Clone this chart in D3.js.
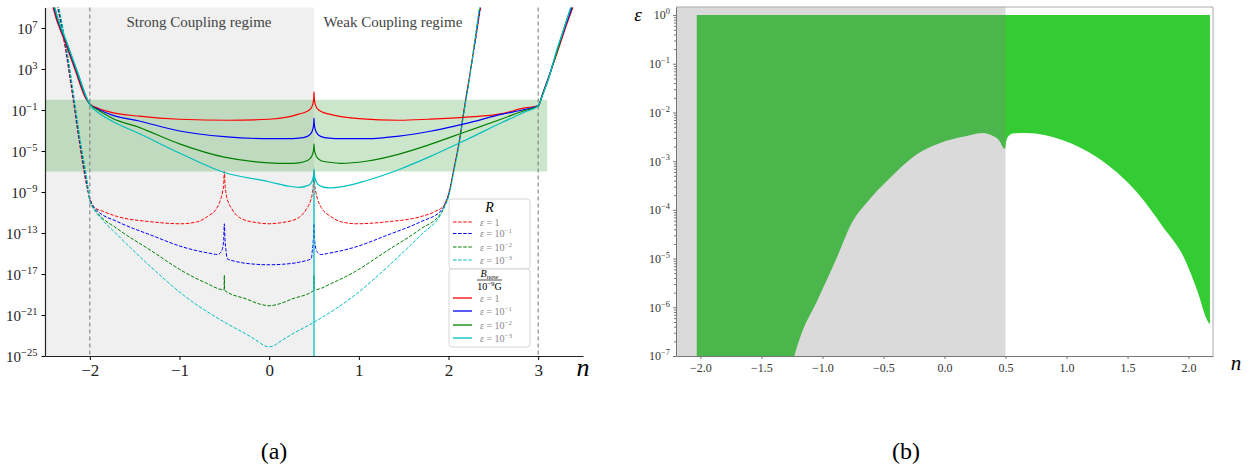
<!DOCTYPE html>
<html>
<head>
<meta charset="utf-8">
<script src="https://cdn.jsdelivr.net/npm/d3@7"></script>
<style>
body { margin: 0; background: #fff; }
svg text { font-family: "Liberation Serif", "DejaVu Serif", serif; }
</style>
</head>
<body>
<svg id="fig" width="1252" height="464"></svg>
<script>
var width = 1252,
height = 464;

// ---- panel (a) data, [n, log10(value)] ----
// R, dashed
var rRed = [[-2.38,9.8],[-2.36,9.0],[-2.27,4.8],[-2.19,0.2],[-2.12,-4.0],[-2.04,-8.2],[-2.0,-9.6],[-1.95,-10.5],[-1.85,-10.9],[-1.69,-11.4],[-1.32,-11.9],[-0.98,-12.1],[-0.8,-11.9],[-0.69,-11.4],[-0.58,-10.5],[-0.54,-9.7],[-0.52,-9.0],[-0.507,-8.2],[-0.5,-7.0],[-0.493,-8.2],[-0.48,-9.2],[-0.46,-9.9],[-0.42,-10.6],[-0.31,-11.6],[-0.13,-12.0],[0,-12.1],[0.13,-12.0],[0.31,-11.6],[0.42,-10.6],[0.46,-9.9],[0.48,-9.2],[0.493,-8.2],[0.5,-7.0],[0.507,-8.2],[0.52,-9.0],[0.54,-9.7],[0.58,-10.5],[0.69,-11.4],[0.8,-11.9],[0.98,-12.1],[1.32,-11.9],[1.69,-11.4],[1.85,-10.9],[1.95,-10.3],[2.0,-9.2],[2.06,-6.7],[2.12,-4.0],[2.17,-1.1],[2.23,2.1],[2.31,6.4],[2.36,9.0],[2.39,10.3]];
var rBlue = [[-2.375,9.8],[-2.355,9.0],[-2.265,4.8],[-2.185,0.2],[-2.115,-4.0],[-2.035,-8.2],[-2.0,-9.7],[-1.97,-10.3],[-1.92,-10.8],[-1.69,-11.9],[-1.32,-13.2],[-0.95,-14.4],[-0.65,-15.0],[-0.58,-15.1],[-0.54,-14.9],[-0.52,-14.5],[-0.507,-13.6],[-0.5,-12.1],[-0.493,-13.6],[-0.48,-14.8],[-0.47,-15.5],[-0.36,-15.8],[-0.15,-16.05],[0,-16.1],[0.15,-16.05],[0.36,-15.8],[0.47,-15.5],[0.48,-14.8],[0.493,-13.6],[0.5,-12.1],[0.507,-13.6],[0.52,-14.5],[0.54,-14.9],[0.58,-15.1],[0.65,-15.0],[0.95,-14.4],[1.32,-13.2],[1.69,-11.9],[1.92,-10.8],[1.96,-10.2],[2.0,-9.3],[2.06,-6.8],[2.12,-4.1],[2.17,-1.2],[2.23,2.0],[2.31,6.3],[2.355,9.0],[2.385,10.3]];
var rGreen = [[-2.37,9.8],[-2.35,9.0],[-2.26,4.8],[-2.18,0.2],[-2.11,-4.0],[-2.03,-8.2],[-2.0,-9.8],[-1.97,-10.4],[-1.92,-11.0],[-1.69,-12.6],[-1.32,-14.7],[-0.95,-16.8],[-0.7,-17.9],[-0.503,-18.55],[-0.5,-17.1],[-0.497,-18.6],[-0.25,-19.45],[-0.1,-19.95],[0,-20.1],[0.1,-19.95],[0.25,-19.45],[0.497,-18.6],[0.5,-17.1],[0.503,-18.55],[0.7,-17.9],[0.95,-16.8],[1.32,-14.7],[1.69,-12.6],[1.92,-11.0],[1.96,-10.3],[2.0,-9.4],[2.06,-6.9],[2.12,-4.2],[2.17,-1.3],[2.23,1.9],[2.3,6.2],[2.35,9.0],[2.38,10.3]];
var rCyan = [[-2.365,9.8],[-2.345,9.0],[-2.255,4.8],[-2.175,0.2],[-2.105,-4.0],[-2.025,-8.2],[-2.0,-9.9],[-1.97,-10.5],[-1.92,-11.1],[-1.69,-13.2],[-1.32,-16.3],[-0.95,-19.1],[-0.5,-21.7],[-0.25,-22.9],[-0.12,-23.6],[-0.05,-24.0],[0,-24.1],[0.05,-24.0],[0.12,-23.6],[0.25,-22.9],[0.5,-21.7],[0.95,-19.1],[1.32,-16.3],[1.69,-13.2],[1.92,-11.1],[1.96,-10.4],[2.0,-9.5],[2.06,-7.0],[2.12,-4.3],[2.17,-1.4],[2.23,1.8],[2.3,6.1],[2.345,9.0],[2.375,10.3]];
// B_now / 1e-9 G, solid
var bRed = [[-2.43,9.8],[-2.41,9.0],[-2.28,5.7],[-2.16,2.8],[-2.05,0.2],[-2.0,-0.4],[-1.9,-0.85],[-1.75,-1.25],[-1.45,-1.6],[-1.0,-1.9],[-0.45,-2.0],[0,-1.9],[0.2,-1.7],[0.33,-1.4],[0.42,-1.15],[0.46,-0.9],[0.48,-0.6],[0.49,-0.3],[0.497,0.15],[0.5,0.76],[0.503,0.15],[0.51,-0.3],[0.52,-0.6],[0.54,-0.9],[0.58,-1.15],[0.67,-1.4],[0.8,-1.65],[1.0,-1.85],[1.45,-2.0],[1.78,-1.9],[2.2,-1.7],[2.6,-1.35],[2.85,-0.8],[3.0,-0.6],[3.05,0.6],[3.12,2.3],[3.22,4.8],[3.32,7.4],[3.42,9.8]];
var bBlue = [[-2.42,9.8],[-2.4,9.0],[-2.27,5.7],[-2.15,2.8],[-2.04,0.17],[-2.0,-0.45],[-1.9,-0.95],[-1.75,-1.5],[-1.45,-2.07],[-1.0,-3.05],[-0.5,-3.6],[0,-3.8],[0.2,-3.8],[0.33,-3.75],[0.42,-3.6],[0.46,-3.35],[0.48,-3.05],[0.49,-2.75],[0.497,-2.3],[0.5,-1.8],[0.503,-2.3],[0.51,-2.75],[0.52,-3.05],[0.54,-3.35],[0.58,-3.6],[0.67,-3.75],[0.8,-3.8],[1.08,-3.8],[1.45,-3.55],[1.78,-3.1],[2.2,-2.3],[2.6,-1.4],[2.85,-0.95],[3.0,-0.6],[3.05,0.55],[3.12,2.25],[3.21,4.75],[3.31,7.35],[3.41,9.8]];
var bGreen = [[-2.415,9.8],[-2.395,9.0],[-2.265,5.7],[-2.145,2.8],[-2.035,0.15],[-2.0,-0.45],[-1.9,-1.05],[-1.75,-1.8],[-1.45,-2.7],[-1.0,-4.3],[-0.5,-5.6],[0,-6.15],[0.2,-6.2],[0.33,-6.15],[0.42,-5.95],[0.46,-5.7],[0.48,-5.4],[0.49,-5.1],[0.497,-4.75],[0.5,-4.3],[0.503,-4.75],[0.51,-5.1],[0.52,-5.4],[0.54,-5.7],[0.58,-5.95],[0.67,-6.1],[0.8,-6.2],[1.08,-6.0],[1.45,-5.3],[1.78,-4.4],[2.2,-3.1],[2.6,-1.85],[2.85,-1.05],[3.0,-0.6],[3.05,0.5],[3.12,2.2],[3.21,4.7],[3.3,7.3],[3.4,9.8]];
var bCyan = [[-2.41,9.8],[-2.39,9.0],[-2.26,5.7],[-2.14,2.8],[-2.03,0.1],[-2.0,-0.45],[-1.9,-1.3],[-1.75,-2.1],[-1.45,-3.3],[-1.0,-5.2],[-0.5,-7.1],[0,-8.0],[0.2,-8.4],[0.33,-8.55],[0.42,-8.4],[0.46,-8.2],[0.48,-7.9],[0.49,-7.6],[0.497,-7.2],[0.499,-6.8],[0.5,-30],[0.501,-6.8],[0.503,-7.2],[0.51,-7.6],[0.52,-7.9],[0.54,-8.2],[0.58,-8.45],[0.67,-8.6],[0.8,-8.5],[1.08,-7.9],[1.45,-6.8],[1.78,-5.6],[2.2,-3.9],[2.6,-2.2],[2.85,-1.2],[3.0,-0.6],[3.05,0.45],[3.12,2.15],[3.2,4.65],[3.3,7.25],[3.39,9.8]];

var seriesColors = ["red", "blue", "green", "#00bfbf"];
var epsExponents = [0, -1, -2, -3];
var leftYTicks = [-25, -21, -17, -13, -9, -5, -1, 3, 7];
var leftXTicks = [-2, -1, 0, 1, 2, 3];
var regimeNames = ["Strong Coupling regime", "Weak Coupling regime"];
var bandRange = [-7, 0];     // log10 limits of shaded band
var regimeSplit = 0.5;
var markLines = [-2, 3];

// ---- panel (b) data: lower edge of allowed region, [n, log10(eps)] ----
var epsBoundary = [[-2.03,-7.6],[-1.28,-7.6],[-1.23,-7.0],[-1.19,-6.67],[-1.04,-5.85],[-0.88,-4.97],[-0.76,-4.27],[-0.62,-3.8],[-0.48,-3.43],[-0.21,-2.83],[-0.04,-2.63],[0.15,-2.5],[0.31,-2.42],[0.41,-2.5],[0.455,-2.6],[0.48,-2.72],[0.495,-2.75],[0.505,-2.6],[0.52,-2.5],[0.56,-2.43],[0.67,-2.42],[0.97,-2.57],[1.25,-2.92],[1.58,-3.65],[1.79,-4.35],[1.96,-4.97],[2.07,-5.65],[2.16,-6.3],[2.175,-6.35]];
var rightYTicks = [-7, -6, -5, -4, -3, -2, -1, 0];
var rightXTicks = [-2, -1.5, -1, -0.5, 0, 0.5, 1, 1.5, 2];

var svg = d3.select("#fig");

// scales
var xA = d3.scaleLinear().domain([-2.5, 3.5]).range([45, 583]);
var yA = d3.scaleLog().domain([1e-25, 1e9]).range([356, 7.5]);
var xB = d3.scaleLinear().domain([-2.2, 2.2]).range([676, 1213]);
var yB = d3.scaleLog().domain([1e-7, Math.pow(10, 0.165)]).range([356, 7]);

function p10(e) { return Math.pow(10, e); }

function supLabel(el, exp, size) {
    el.text(null);
    el.append("tspan").text("10");
    el.append("tspan")
        .attr("dy", -size * 0.42)
        .attr("font-size", size * 0.7)
        .text(String(exp).replace("-", "\u2212"));
}

// ================= panel (a) =================
var defs = svg.append("defs");
defs.append("clipPath").attr("id", "clipA").append("rect")
    .attr("x", 45).attr("y", 7.5).attr("width", 538).attr("height", 348.5);
defs.append("clipPath").attr("id", "clipB").append("rect")
    .attr("x", 676).attr("y", 7).attr("width", 537).attr("height", 349);

var gA = svg.append("g");

gA.append("rect")
    .attr("x", xA(-2.5)).attr("y", yA(1e9))
    .attr("width", xA(regimeSplit) - xA(-2.5))
    .attr("height", yA(1e-25) - yA(1e9))
    .attr("fill", "#f0f0f0");

gA.append("rect")
    .attr("x", xA(-2.5)).attr("y", yA(p10(bandRange[1])))
    .attr("width", xA(3.1) - xA(-2.5))
    .attr("height", yA(p10(bandRange[0])) - yA(p10(bandRange[1])))
    .attr("fill", "green").attr("opacity", 0.2);

gA.selectAll(".vmark").data(markLines).enter().append("line")
    .attr("class", "vmark")
    .attr("x1", d => xA(d)).attr("x2", d => xA(d))
    .attr("y1", yA(1e9)).attr("y2", yA(1e-25))
    .attr("stroke", "#777").attr("stroke-width", 1)
    .attr("stroke-dasharray", "4,3");

var lineA = d3.line()
    .x(d => xA(d[0]))
    .y(d => yA(p10(d[1])))
    .curve(d3.curveMonotoneX);

var rSeries = [rRed, rBlue, rGreen, rCyan];
var bSeries = [bRed, bBlue, bGreen, bCyan];

var curves = gA.append("g").attr("clip-path", "url(#clipA)");
curves.selectAll(".rLine").data(rSeries).enter().append("path")
    .attr("class", "rLine")
    .attr("d", d => lineA(d))
    .attr("fill", "none")
    .attr("stroke", (d, i) => seriesColors[i])
    .attr("stroke-width", 1)
    .attr("stroke-dasharray", "3.5,1.6");
curves.selectAll(".bLine").data(bSeries).enter().append("path")
    .attr("class", "bLine")
    .attr("d", d => lineA(d))
    .attr("fill", "none")
    .attr("stroke", (d, i) => seriesColors[i])
    .attr("stroke-width", 1.2);

// axes
var axA_y = d3.axisLeft(yA).tickValues(leftYTicks.map(p10)).tickSize(3.5).tickSizeOuter(0).tickPadding(4);
var gAy = gA.append("g").attr("transform", "translate(45,0)").call(axA_y);
gAy.selectAll(".tick text").each(function(d) {
    supLabel(d3.select(this), Math.round(Math.log10(d)), 15);
});
gAy.attr("font-size", 15).attr("font-family", null);
gAy.selectAll(".tick text").attr("fill", "#222").attr("dy", "0.38em");

var axA_x = d3.axisBottom(xA).tickValues(leftXTicks).tickSize(4).tickSizeOuter(0).tickPadding(4)
    .tickFormat(d => String(d).replace("-", "\u2212"));
var gAx = gA.append("g").attr("transform", "translate(0,356)").call(axA_x);
gAx.attr("font-size", 17).attr("font-family", null);
gAx.selectAll(".tick text").attr("fill", "#222");
gA.selectAll(".domain").attr("stroke", "#222").attr("stroke-width", 1.2);

gA.append("text")
    .attr("x", 583).attr("y", 376)
    .attr("font-size", 26).attr("font-style", "italic")
    .attr("text-anchor", "middle")
    .text("n");

gA.selectAll(".regime").data(regimeNames).enter().append("text")
    .attr("class", "regime")
    .attr("x", (d, i) => i == 0 ? 199 : 393)
    .attr("y", 27)
    .attr("text-anchor", "middle")
    .attr("font-size", 15)
    .attr("fill", "#444")
    .text(d => d);

// legend
var legend = gA.append("g").attr("class", "legend");
legend.append("rect")
    .attr("x", 449).attr("y", 199).attr("width", 81).attr("height", 70).attr("rx", 3)
    .attr("fill", "#fff").attr("fill-opacity", 0.85).attr("stroke", "#ccc").attr("stroke-width", 0.8);
legend.append("rect")
    .attr("x", 449).attr("y", 269).attr("width", 81).attr("height", 78).attr("rx", 3)
    .attr("fill", "#fff").attr("fill-opacity", 0.85).attr("stroke", "#ccc").attr("stroke-width", 0.8);
legend.append("text")
    .attr("x", 489.5).attr("y", 212)
    .attr("text-anchor", "middle").attr("font-size", 14).attr("font-style", "italic")
    .text("R");

var numer = legend.append("text")
    .attr("x", 489.5).attr("y", 277)
    .attr("text-anchor", "middle").attr("font-size", 10);
numer.append("tspan").attr("font-style", "italic").text("B");
numer.append("tspan").attr("font-size", 7).attr("dy", 2).attr("font-style", "italic").text("now");
legend.append("line")
    .attr("x1", 477).attr("x2", 502).attr("y1", 280).attr("y2", 280)
    .attr("stroke", "#222").attr("stroke-width", 0.8);
var denom = legend.append("text")
    .attr("x", 489.5).attr("y", 290)
    .attr("text-anchor", "middle").attr("font-size", 10);
denom.append("tspan").text("10");
denom.append("tspan").attr("font-size", 7).attr("dy", -4).text("\u22129");
denom.append("tspan").attr("dy", 4).text("G");

var rowsR = [222, 233.5, 247, 260];
var rowsB = [298, 311, 325, 338];

function legendRows(rows, dashed) {
    rows.forEach(function(y, i) {
        legend.append("line")
            .attr("x1", 453).attr("x2", 472).attr("y1", y).attr("y2", y)
            .attr("stroke", seriesColors[i])
            .attr("stroke-width", dashed ? 1.2 : 1.3)
            .attr("stroke-dasharray", dashed ? "3.5,1.6" : null);
        var t = legend.append("text")
            .attr("x", 480).attr("y", y + 3.5)
            .attr("font-size", 10).attr("fill", "#888");
        t.append("tspan").attr("font-style", "italic").text("\u03b5");
        if (epsExponents[i] == 0) {
            t.append("tspan").text(" = 1");
        } else {
            t.append("tspan").text(" = 10");
            t.append("tspan").attr("font-size", 7).attr("dy", -4)
                .text(String(epsExponents[i]).replace("-", "\u2212"));
        }
    });
}
legendRows(rowsR, true);
legendRows(rowsB, false);

// ================= panel (b) =================
var gB = svg.append("g");

var epsArea = d3.area()
    .x(d => xB(d[0]))
    .y0(yB(1))
    .y1(d => yB(p10(d[1])))
    .curve(d3.curveMonotoneX);

var plotB = gB.append("g").attr("clip-path", "url(#clipB)");
plotB.append("path")
    .attr("d", epsArea(epsBoundary))
    .attr("fill", "#33cc33");
plotB.append("rect")
    .attr("x", xB(-2.2)).attr("y", yB.range()[1])
    .attr("width", xB(regimeSplit) - xB(-2.2))
    .attr("height", yB.range()[0] - yB.range()[1])
    .attr("fill", "#838383").attr("opacity", 0.3);

// frame: top and right
gB.append("line").attr("x1", 676).attr("x2", 1213).attr("y1", 7).attr("y2", 7)
    .attr("stroke", "#aaa").attr("stroke-width", 1);
gB.append("line").attr("x1", 1213).attr("x2", 1213).attr("y1", 7).attr("y2", 356)
    .attr("stroke", "#aaa").attr("stroke-width", 1);

// minor ticks on y
var minorTicks = [];
rightYTicks.slice(0, -1).forEach(function(e) {
    for (var k = 2; k < 10; k++) minorTicks.push(k * p10(e));
});
gB.append("g").attr("transform", "translate(676,0)")
    .call(d3.axisLeft(yB).tickValues(minorTicks).tickSize(2).tickSizeOuter(0).tickFormat(""))
    .call(g => g.select(".domain").remove())
    .selectAll("line").attr("stroke", "#888");

var axB_y = d3.axisLeft(yB).tickValues(rightYTicks.map(p10)).tickSize(3).tickSizeOuter(0).tickPadding(3);
var gBy = gB.append("g").attr("transform", "translate(676,0)").call(axB_y);
gBy.selectAll(".tick text").each(function(d) {
    supLabel(d3.select(this), Math.round(Math.log10(d)), 12);
});
gBy.attr("font-size", 12).attr("font-family", null);
gBy.selectAll(".tick text").attr("fill", "#333");

var axB_x = d3.axisBottom(xB).tickValues(rightXTicks).tickSize(3).tickSizeOuter(0).tickPadding(4)
    .tickFormat(d3.format(".1f"));
var gBx = gB.append("g").attr("transform", "translate(0,356)").call(axB_x);
gBx.attr("font-size", 12).attr("font-family", null);
gBx.selectAll(".tick text").attr("fill", "#333");
gB.selectAll(".domain").attr("stroke", "#777");
gB.selectAll(".tick line").attr("stroke", "#777");

gB.append("text")
    .attr("x", 638).attr("y", 21)
    .attr("text-anchor", "middle").attr("font-size", 19).attr("font-style", "italic")
    .text("\u03b5");
gB.append("text")
    .attr("x", 1236).attr("y", 370)
    .attr("text-anchor", "middle").attr("font-size", 21).attr("font-style", "italic")
    .text("n");

// captions
svg.selectAll(".caption").data(["(a)", "(b)"]).enter().append("text")
    .attr("class", "caption")
    .attr("x", (d, i) => i == 0 ? 274 : 906)
    .attr("y", 459)
    .attr("text-anchor", "middle")
    .attr("font-size", 24)
    .text(d => d);
</script>
</body>
</html>
